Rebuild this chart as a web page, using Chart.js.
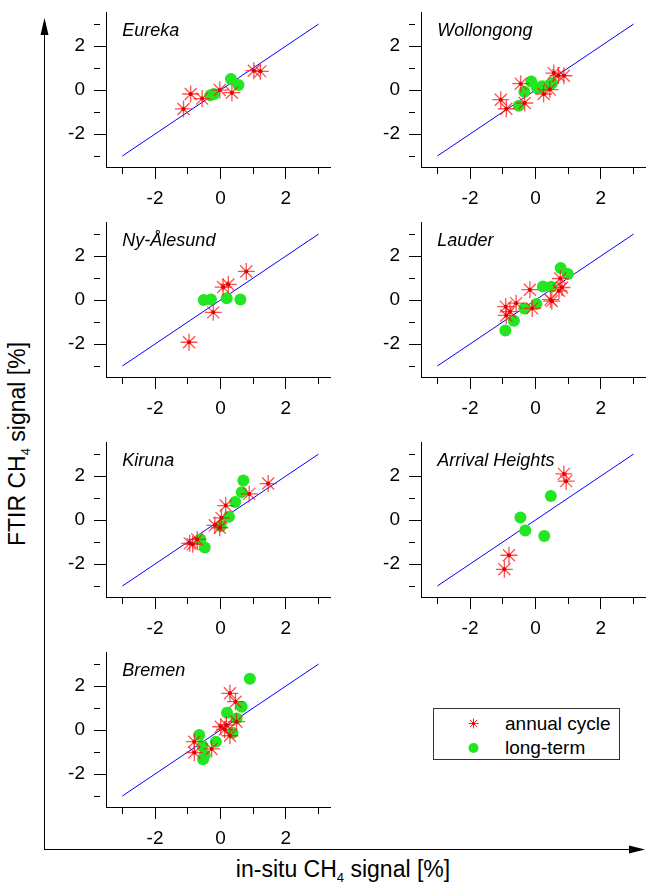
<!DOCTYPE html>
<html>
<head>
<meta charset="utf-8">
<script src="https://cdn.jsdelivr.net/npm/chart.js@4.4.1/dist/chart.umd.min.js"></script>
<style>
  html, body { margin: 0; padding: 0; background: #fff; overflow: hidden; }
  body { width: 646px; height: 884px; position: relative; font-family: "Liberation Sans", Arial, sans-serif; }
  canvas.panel { position: absolute; }
  #frame { position: absolute; left: 0; top: 0; }
  .axlabel { position: absolute; white-space: nowrap; font-size: 23px; color: #000; }
  .axlabel sub { font-size: 13px; vertical-align: -5px; }
  #ylab { left: 18px; top: 444px; transform: translate(-50%, -50%) rotate(-90deg); }
  #xlab { left: 343px; top: 870px; transform: translate(-50%, -50%); }
  #legend { position: absolute; left: 433px; top: 708px; width: 185px; height: 50px; border: 1px solid #333; }
  #legend .row { position: absolute; left: 71px; font-size: 19px; line-height: 19px; }
</style>
</head>
<body>
<svg id="frame" width="646" height="884">
  <line x1="44.5" y1="32" x2="44.5" y2="849.5" stroke="#000" stroke-width="1"/>
  <polygon points="44.5,18 40.5,35 48.5,35" fill="#000"/>
  <line x1="44" y1="849.5" x2="630" y2="849.5" stroke="#000" stroke-width="1"/>
  <polygon points="645,849.5 629,845.5 629,853.5" fill="#000"/>
</svg>
<div class="axlabel" id="ylab">FTIR CH<sub>4</sub> signal [%]</div>
<div class="axlabel" id="xlab">in-situ CH<sub>4</sub> signal [%]</div>
<div id="legend">
  <svg width="185" height="50" style="position:absolute;left:0;top:0">
    <g stroke="#ff2020" stroke-width="1">
      <line x1="39.5" y1="9.5" x2="39.5" y2="19.5"/>
      <line x1="34.5" y1="14.5" x2="44.5" y2="14.5"/>
      <line x1="36" y1="11" x2="43" y2="18"/>
      <line x1="43" y1="11" x2="36" y2="18"/>
    </g>
    <circle cx="39.5" cy="14.5" r="1.6" fill="#e00000"/>
    <circle cx="39.5" cy="39" r="5" fill="#22e622"/>
  </svg>
  <div class="row" style="top:5px">annual cycle</div>
  <div class="row" style="top:29px">long-term</div>
</div>

<script>
// ---- data ----
const diagX = [-3, 3];

const eurekaAnnualX = [-1.13, -0.91, -0.56, -0.02, 0.35, 1.02, 1.22];
const eurekaAnnualY = [-0.86, -0.18, -0.39, 0.0, -0.12, 0.88, 0.85];
const eurekaLongX   = [-0.31, -0.2, 0.32, 0.55];
const eurekaLongY   = [-0.24, -0.18, 0.5, 0.23];

const wollongongAnnualX = [-1.06, -0.89, -0.45, -0.33, 0.25, 0.44, 0.56, 0.7, 0.87];
const wollongongAnnualY = [-0.44, -0.85, 0.29, -0.59, -0.18, 0.02, 0.77, 0.66, 0.65];
const wollongongLongX   = [-0.51, -0.34, -0.13, 0.05, 0.2, 0.45, 0.51];
const wollongongLongY   = [-0.71, -0.08, 0.39, 0.09, 0.17, 0.25, 0.32];

const nyAlesundAnnualX = [-0.96, -0.22, 0.08, 0.24, 0.79];
const nyAlesundAnnualY = [-1.92, -0.56, 0.59, 0.71, 1.3];
const nyAlesundLongX   = [-0.51, -0.29, 0.19, 0.61];
const nyAlesundLongY   = [0.0, 0.02, 0.08, 0.02];

const lauderAnnualX = [-0.91, -0.89, -0.78, -0.59, -0.17, -0.1, 0.46, 0.5, 0.72, 0.76, 0.81];
const lauderAnnualY = [-0.3, -0.7, -0.53, -0.14, 0.47, -0.38, 0.02, -0.05, 0.42, 0.98, 0.57];
const lauderLongX   = [-0.92, -0.66, -0.34, 0.03, 0.23, 0.48, 0.77, 0.99];
const lauderLongY   = [-1.39, -0.94, -0.38, -0.18, 0.62, 0.6, 1.46, 1.18];

const kirunaAnnualX = [-0.94, -0.85, -0.71, -0.17, -0.02, 0.03, 0.16, 0.88, 1.46];
const kirunaAnnualY = [-1.06, -1.1, -0.88, -0.24, -0.35, 0.1, 0.66, 1.19, 1.66];
const kirunaLongX   = [-0.61, -0.48, 0.01, 0.26, 0.45, 0.65, 0.7];
const kirunaLongY   = [-0.88, -1.25, -0.27, 0.15, 0.82, 1.27, 1.8];

const arrivalAnnualX = [-0.95, -0.81, 0.87, 0.94];
const arrivalAnnualY = [-2.24, -1.6, 2.1, 1.77];
const arrivalLongX   = [-0.46, -0.31, 0.27, 0.47];
const arrivalLongY   = [0.12, -0.48, -0.73, 1.09];

const bremenAnnualX = [-0.8, -0.8, -0.27, 0.01, 0.13, 0.18, 0.29, 0.29, 0.46, 0.49];
const bremenAnnualY = [-0.53, -1.02, -0.86, 0.15, 0.03, 0.23, -0.26, 1.67, 1.29, 0.38];
const bremenLongX   = [-0.65, -0.55, -0.53, -0.48, -0.14, 0.2, 0.37, 0.49, 0.65, 0.9];
const bremenLongY   = [-0.23, -0.73, -1.33, -1.14, -0.53, 0.79, -0.12, 0.53, 1.06, 2.33];

const tickLabels = [-2, 0, 2];

// ---- panel layout: chart area left/top in page px ----
const PANELS = [
  { name: "Eureka",          ax: eurekaAnnualX,     ay: eurekaAnnualY,     lx: eurekaLongX,     ly: eurekaLongY,     left: 106, top: 12 },
  { name: "Wollongong",      ax: wollongongAnnualX, ay: wollongongAnnualY, lx: wollongongLongX, ly: wollongongLongY, left: 421, top: 12 },
  { name: "Ny-Ålesund",      ax: nyAlesundAnnualX,  ay: nyAlesundAnnualY,  lx: nyAlesundLongX,  ly: nyAlesundLongY,  left: 106, top: 222 },
  { name: "Lauder",          ax: lauderAnnualX,     ay: lauderAnnualY,     lx: lauderLongX,     ly: lauderLongY,     left: 421, top: 222 },
  { name: "Kiruna",          ax: kirunaAnnualX,     ay: kirunaAnnualY,     lx: kirunaLongX,     ly: kirunaLongY,     left: 106, top: 442 },
  { name: "Arrival Heights", ax: arrivalAnnualX,    ay: arrivalAnnualY,    lx: arrivalLongX,    ly: arrivalLongY,    left: 421, top: 442 },
  { name: "Bremen",          ax: bremenAnnualX,     ay: bremenAnnualY,     lx: bremenLongX,     ly: bremenLongY,     left: 106, top: 652 }
];

const Y_AXIS_W = 60, X_AXIS_H = 40, PAD_TOP = 6, PAD_RIGHT = 1;
const AREA_W = 224, AREA_H = 155;
const FONT = "Liberation Sans";

const pts = (xs, ys) => xs.map((x, i) => ({ x, y: ys[i] }));

// station name, top-left inside the plot
const panelTitle = {
  id: "panelTitle",
  afterDraw(chart, args, opts) {
    const { ctx, scales } = chart;
    ctx.save();
    ctx.font = `italic 18px "${FONT}"`;
    ctx.fillStyle = "#000";
    ctx.textBaseline = "alphabetic";
    ctx.fillText(opts.text, scales.x.getPixelForValue(-3), scales.y.getPixelForValue(3) + 12);
    ctx.restore();
  }
};

// no automatic label padding, so the plot box is exactly AREA_W x AREA_H
function noPad(s) {
  s.paddingTop = 0; s.paddingBottom = 0; s.paddingLeft = 0; s.paddingRight = 0;
}

function axis(min, max, fit) {
  return {
    type: "linear",
    min, max,
    afterFit: s => { fit(s); noPad(s); },
    border: { color: "#000", width: 1 },
    grid: {
      drawOnChartArea: false,
      drawTicks: true,
      tickLength: 12,
      tickColor: "#000",
      tickWidth: 1,
      // odd ticks are half length
      tickBorderDash: ctx => (ctx.tick && Math.abs(ctx.tick.value) % 2 === 1) ? [6, 40] : []
    },
    ticks: {
      stepSize: 1,
      includeBounds: false,
      autoSkip: false,
      maxRotation: 0,
      color: "#000",
      font: { family: FONT, size: 19 },
      callback: v => tickLabels.includes(v) ? String(v) : ""
    }
  };
}

function makePanel(p) {
  const cv = document.createElement("canvas");
  cv.className = "panel";
  const w = Y_AXIS_W + AREA_W + PAD_RIGHT;
  const h = PAD_TOP + AREA_H + X_AXIS_H;
  cv.width = w; cv.height = h;
  cv.style.width = w + "px"; cv.style.height = h + "px";
  cv.style.left = (p.left - Y_AXIS_W) + "px";
  cv.style.top = (p.top - PAD_TOP) + "px";
  document.body.appendChild(cv);

  const xs = axis(-3.5, 3.35, s => { s.height = X_AXIS_H; });
  xs.ticks.padding = 8;
  const ys = axis(-3.5, 3.55, s => { s.width = Y_AXIS_W; });
  ys.ticks.padding = 9;

  new Chart(cv, {
    type: "scatter",
    data: {
      datasets: [
        { data: pts(p.ax, p.ay), pointStyle: "circle", pointRadius: 2, backgroundColor: "#e00000", borderWidth: 0, order: 1 },
        { data: pts(p.ax, p.ay), pointStyle: "star", pointRadius: 8.5, borderColor: "rgba(255,20,20,0.75)", borderWidth: 1.3, backgroundColor: "transparent", order: 2 },
        { data: pts(p.lx, p.ly), pointStyle: "circle", pointRadius: 6, backgroundColor: "#22e622", borderWidth: 0, order: 3 },
        { data: pts(diagX, diagX), showLine: true, borderColor: "#0000ff", borderWidth: 1, pointRadius: 0, order: 4 }
      ]
    },
    options: {
      responsive: false,
      animation: false,
      devicePixelRatio: 1,
      events: [],
      layout: { autoPadding: false, padding: { top: PAD_TOP, right: PAD_RIGHT, left: 0, bottom: 0 } },
      plugins: {
        legend: { display: false },
        tooltip: { enabled: false },
        panelTitle: { text: p.name }
      },
      scales: { x: xs, y: ys }
    },
    plugins: [panelTitle]
  });
}

PANELS.forEach(makePanel);
</script>
</body>
</html>
